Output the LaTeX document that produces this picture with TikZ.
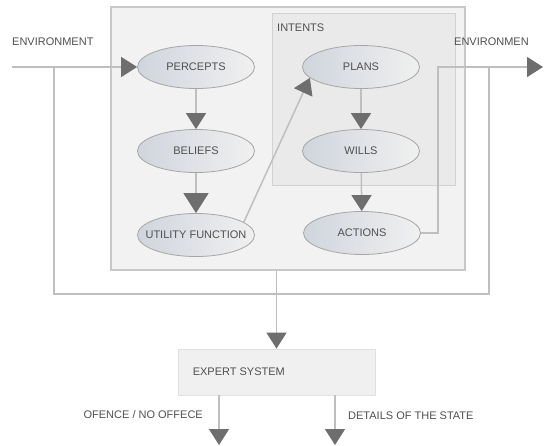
\documentclass[tikz,border=0pt]{standalone}
\usepackage{fontspec}
\setmainfont{Liberation Sans}
\usetikzlibrary{arrows.meta,shapes.geometric,calc}
\definecolor{linegray}{HTML}{BFBFBF}
\definecolor{headgray}{HTML}{6E6E6E}
\definecolor{txtgray}{HTML}{505050}
\definecolor{agentfill}{HTML}{F2F2F2}
\definecolor{agentborder}{HTML}{C8C8C8}
\definecolor{intfill}{HTML}{EAEAEA}
\definecolor{intborder}{HTML}{D2D2D2}
\definecolor{ellborder}{HTML}{A6A6A6}
\definecolor{ellleft}{HTML}{D0D5DD}
\definecolor{ellright}{HTML}{F0F0F0}
\definecolor{expfill}{HTML}{F0F0F0}
\definecolor{expborder}{HTML}{E0E0E0}
\begin{document}
\begin{tikzpicture}[x=1pt,y=-1pt,
  state/.style={ellipse, draw=ellborder, line width=0.8pt, left color=ellleft, right color=ellright,
    minimum width=117pt, minimum height=43pt, inner sep=0pt, font=\fontsize{11}{13}\selectfont, text=txtgray},
  conn/.style={draw=linegray, line width=1.5pt},
  arr/.style={conn, -{Triangle[length=16pt,width=20pt,color=headgray,fill=headgray]}},
  bigarr/.style={conn, -{Triangle[length=20pt,width=25pt,color=headgray,fill=headgray]}},
  lbl/.style={font=\fontsize{11}{13}\selectfont, text=txtgray, inner sep=0pt}]
\useasboundingbox (0,0) rectangle (546,445);
\fill[white] (0,0) rectangle (546,445);
% boxes
\node[draw=agentborder, fill=agentfill, line width=1.2pt, minimum width=354pt, minimum height=263pt, inner sep=0pt] (agent) at (288,138.5) {};
\node[draw=intborder, fill=intfill, line width=1pt, minimum width=183pt, minimum height=172pt, inner sep=0pt] (intents) at (363.5,99) {};
\node[lbl, anchor=west] (intlbl) at (277,28) {INTENTS};
% states
\node[state] (percepts) at (196,67) {\makebox[0pt]{PERCEPTS}};
\node[state] (beliefs) at (196,151) {\makebox[0pt]{BELIEFS}};
\node[state] (utility) at (196,235) {\makebox[0pt]{UTILITY FUNCTION}};
\node[state] (plans) at (361,67) {\makebox[0pt]{PLANS}};
\node[state] (wills) at (361,151) {\makebox[0pt]{WILLS}};
\node[state] (actions) at (362,233) {\makebox[0pt]{ACTIONS}};
% environment labels
\node[lbl, anchor=west] (envl) at (12,42) {ENVIRONMENT};
\node[lbl, anchor=west] (envr) at (454,42) {ENVIRONMEN};
% expert system
\node[draw=expborder, fill=expfill, line width=0.8pt, minimum width=197pt, minimum height=46pt, inner sep=0pt] (expert) at (276.5,372) {};
\node[lbl, anchor=west] (exptxt) at ([xshift=15pt]expert.west) {EXPERT SYSTEM};
\node[lbl, anchor=east] (ofl) at (203,415) {OFENCE / NO OFFECE};
\node[lbl, anchor=west] (detl) at (348,416) {DETAILS OF THE STATE};
% coordinates
\coordinate (envin) at (12,67);
\coordinate (lj) at (54,67);
\coordinate (lb) at (54,294);
\coordinate (rb) at (489,294);
\coordinate (rj) at (489,67);
\coordinate (a1) at (438,233);
\coordinate (a2) at (438,67);
\coordinate (envout) at (543,67);
\coordinate (o1) at (219,445);
\coordinate (o2) at (335,445);
% connectors
\draw[conn] (lj) -- (lb) -- (rb) -- (rj);
\draw[arr] (envin) -- (percepts.west);
\draw[arr] (percepts) -- (beliefs);
\draw[bigarr] (beliefs) -- (utility);
\draw[arr] (utility.15) -- (plans.192);
\draw[arr] (plans) -- (wills);
\draw[arr] (wills) -- (actions);
\draw[arr] (actions.east) -- (a1) -- (a2) -- (envout);
\draw[arr] (expert.north |- agent.south) -- (expert.north);
\draw[arr] (expert.south -| o1) -- (o1);
\draw[arr] (expert.south -| o2) -- (o2);
\end{tikzpicture}
\end{document}
